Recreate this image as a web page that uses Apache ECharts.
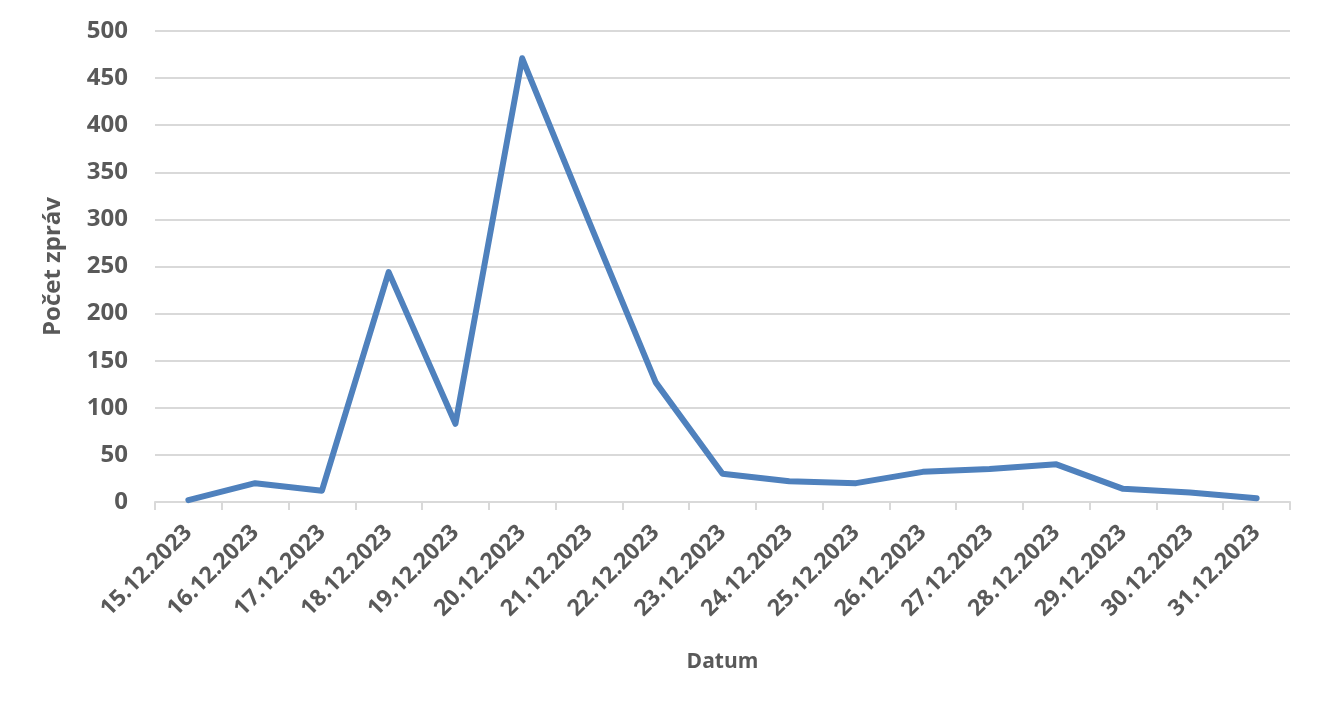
<!DOCTYPE html>
<html lang="cs">
<head>
    <meta charset="UTF-8">
    <title>Počet zpráv</title>
    <style>
      * { padding: 0; margin: 0; }
      body { background: #fff; }
    </style>
</head>
<body>
    <div id="main" style="width: 1322px;height:714px;"></div>
    <script src="https://cdn.jsdelivr.net/npm/echarts@6/dist/echarts.min.js"></script>
    <script>
        // data
        var dates = ['15.12.2023','16.12.2023','17.12.2023','18.12.2023','19.12.2023','20.12.2023',
                     '21.12.2023','22.12.2023','23.12.2023','24.12.2023','25.12.2023','26.12.2023',
                     '27.12.2023','28.12.2023','29.12.2023','30.12.2023','31.12.2023'];
        var counts = [2, 20, 12, 244, 83, 471, 298, 127, 30, 22, 20, 32, 35, 40, 14, 10, 4];
        var yTicks = [0, 50, 100, 150, 200, 250, 300, 350, 400, 450, 500];

        var textColor = '#595959';
        var fontFam = '"Open Sans", "Liberation Sans", sans-serif';

        var option = {
            animation: false,
            grid: { left: 155, right: 32, top: 31, bottom: 212 },
            xAxis: {
                type: 'category',
                data: dates,
                boundaryGap: true,
                name: 'Datum',
                nameLocation: 'middle',
                nameGap: 150,
                nameTextStyle: { color: textColor, fontSize: 21, fontWeight: 'bold', fontFamily: fontFam },
                axisLine: { lineStyle: { color: '#d9d9d9', width: 2 } },
                axisTick: { show: true, length: 8, lineStyle: { color: '#d9d9d9', width: 2 } },
                axisLabel: {
                    rotate: 45,
                    interval: 0,
                    margin: 27,
                    color: textColor,
                    fontSize: 23,
                    fontWeight: 'bold',
                    fontFamily: fontFam
                }
            },
            yAxis: {
                type: 'value',
                min: yTicks[0],
                max: yTicks[yTicks.length - 1],
                interval: yTicks[1] - yTicks[0],
                name: 'Počet zpráv',
                nameLocation: 'middle',
                nameGap: 90,
                nameTextStyle: { color: textColor, fontSize: 24, fontWeight: 'bold', fontFamily: fontFam },
                axisLine: { show: false },
                axisTick: { show: false },
                axisLabel: {
                    margin: 27,
                    color: textColor,
                    fontSize: 24,
                    fontWeight: 'bold',
                    fontFamily: fontFam
                },
                splitLine: { lineStyle: { color: '#d9d9d9', width: 2 } }
            },
            series: [{
                type: 'line',
                data: counts,
                symbol: 'none',
                lineStyle: { color: '#4f81bd', width: 6, cap: 'round', join: 'round' },
                itemStyle: { color: '#4f81bd' }
            }]
        };

        var myChart = echarts.init(document.getElementById('main'));
        myChart.setOption(option);
    </script>
</body>
</html>
